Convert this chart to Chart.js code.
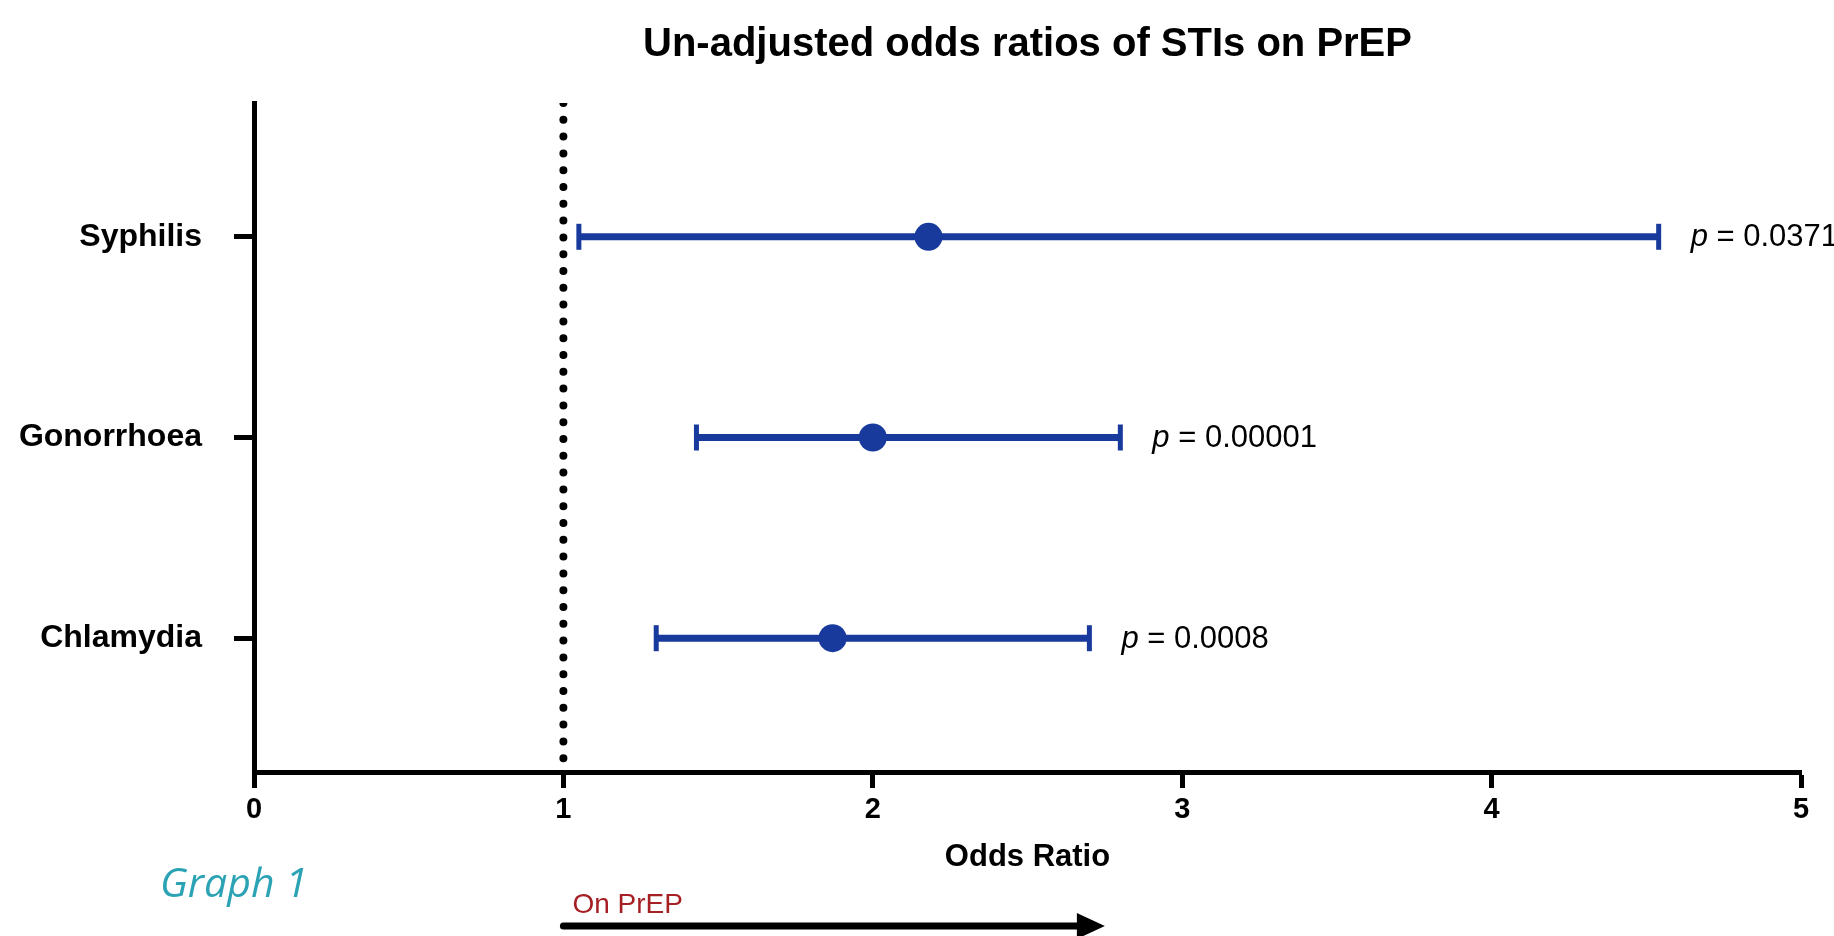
<!DOCTYPE html>
<html>
<head>
<meta charset="utf-8">
<title>Un-adjusted odds ratios of STIs on PrEP</title>
<script src="https://cdn.jsdelivr.net/npm/chart.js@4"></script>
<style>
  html, body { margin: 0; padding: 0; background: #fff; }
  #chart { display: block; }
</style>
</head>
<body>
<canvas id="chart" width="1834" height="936"></canvas>
<script>
// data
const categories = ["Syphilis", "Gonorrhoea", "Chlamydia"];
const rowPos = [3, 2, 1];
const oddsRatio = [2.18, 2.00, 1.87];
const ciLower = [1.05, 1.43, 1.30];
const ciUpper = [4.54, 2.80, 2.70];
const pValues = ["0.0371", "0.00001", "0.0008"];
const xTicks = [0, 1, 2, 3, 4, 5];
const refLine = 1;
const arrowTo = 2.75;

const BLUE = "#173a9c";
const FONT = "'Liberation Sans', Arial, Helvetica, sans-serif";
const yMin = 1 / 3, yMax = 11 / 3;

Chart.defaults.font.family = FONT;
Chart.defaults.color = "#000";

// p-value labels next to each interval + the footer notes
const extrasPlugin = {
  id: "extras",
  afterDatasetsDraw(chart) {
    const ctx = chart.ctx;
    const xs = chart.scales.x, ys = chart.scales.y;
    ctx.save();
    ctx.fillStyle = "#000";
    ctx.textBaseline = "middle";
    ctx.textAlign = "left";
    rowPos.forEach((r, i) => {
      let x = xs.getPixelForValue(ciUpper[i]) + 32;
      const y = ys.getPixelForValue(r) + 1;
      ctx.font = "italic 31px " + FONT;
      ctx.fillText("p", x, y);
      x += ctx.measureText("p").width;
      ctx.font = "31px " + FONT;
      ctx.fillText(" = " + pValues[i], x, y);
    });
    ctx.restore();
  },
  afterDraw(chart) {
    const ctx = chart.ctx;
    const xs = chart.scales.x;
    const x0 = xs.getPixelForValue(refLine);
    const x1 = xs.getPixelForValue(arrowTo);
    ctx.save();
    ctx.textBaseline = "alphabetic";
    ctx.textAlign = "left";
    ctx.font = "italic 400 41px 'Open Sans', " + FONT;
    ctx.fillStyle = "#2ba3b4";
    ctx.fillText("Graph 1", 160, 897);
    ctx.font = "28px " + FONT;
    ctx.fillStyle = "#a51f24";
    ctx.fillText("On PrEP", x0 + 9, 913);
    // arrow
    const ay = 926;
    ctx.strokeStyle = "#000";
    ctx.fillStyle = "#000";
    ctx.lineWidth = 7;
    ctx.lineCap = "round";
    ctx.beginPath();
    ctx.moveTo(x0, ay);
    ctx.lineTo(x1 - 24, ay);
    ctx.stroke();
    ctx.beginPath();
    ctx.moveTo(x1 - 28, ay - 13);
    ctx.lineTo(x1, ay);
    ctx.lineTo(x1 - 28, ay + 13);
    ctx.closePath();
    ctx.fill();
    ctx.restore();
  }
};

const pointData = rowPos.map((r, i) => ({ x: oddsRatio[i], y: r }));

const barSets = rowPos.map((r, i) => ({
  label: categories[i] + " CI",
  data: [{ x: ciLower[i], y: r }, { x: ciUpper[i], y: r }],
  showLine: true,
  borderColor: BLUE,
  borderWidth: 7,
  pointStyle: "line",
  rotation: 90,
  pointRadius: 13,
  pointBorderWidth: 5,
  pointBorderColor: BLUE,
  pointBackgroundColor: BLUE
}));

new Chart(document.getElementById("chart"), {
  type: "scatter",
  data: {
    datasets: [
      {
        label: "Odds ratio",
        data: pointData,
        pointRadius: 14,
        pointBackgroundColor: BLUE,
        pointBorderColor: BLUE,
        pointBorderWidth: 0
      },
      ...barSets,
      {
        label: "OR = 1",
        data: [{ x: refLine, y: yMax }, { x: refLine, y: yMin }],
        showLine: true,
        borderColor: "#000",
        borderWidth: 8,
        borderDash: [0, 16.8],
        borderCapStyle: "round",
        pointRadius: 0
      }
    ]
  },
  options: {
    responsive: false,
    animation: false,
    layout: { padding: { left: 0, right: 33, top: 0, bottom: 0 } },
    plugins: {
      legend: { display: false },
      tooltip: { enabled: false },
      title: {
        display: true,
        fullSize: false,
        text: "Un-adjusted odds ratios of STIs on PrEP",
        color: "#000",
        font: { size: 40, weight: "bold" },
        padding: { top: 21, bottom: 34 }
      }
    },
    scales: {
      x: {
        type: "linear",
        min: 0,
        max: 5,
        afterBuildTicks: (s) => { s.ticks = xTicks.map(v => ({ value: v })); },
        afterFit: (s) => { s.height = 164; },
        border: { display: true, color: "#000", width: 5 },
        grid: { drawOnChartArea: false, drawTicks: true, tickLength: 16, tickWidth: 5, tickColor: "#000", color: "#000" },
        ticks: { color: "#000", font: { size: 29, weight: "bold" }, padding: 5 },
        title: {
          display: true,
          text: "Odds Ratio",
          color: "#000",
          font: { size: 31, weight: "bold" },
          padding: { top: 0, bottom: 60 }
        }
      },
      y: {
        type: "linear",
        min: yMin,
        max: yMax,
        afterBuildTicks: (s) => { s.ticks = rowPos.map(v => ({ value: v })); },
        afterFit: (s) => { s.width = 254; },
        border: { display: true, color: "#000", width: 5 },
        grid: { drawOnChartArea: false, drawTicks: true, tickLength: 20, tickWidth: 5, tickColor: "#000", color: "#000" },
        ticks: {
          color: "#000",
          font: { size: 32, weight: "bold" },
          padding: 32,
          callback: (v) => categories[rowPos.indexOf(v)]
        }
      }
    }
  },
  plugins: [extrasPlugin]
});
</script>
</body>
</html>
